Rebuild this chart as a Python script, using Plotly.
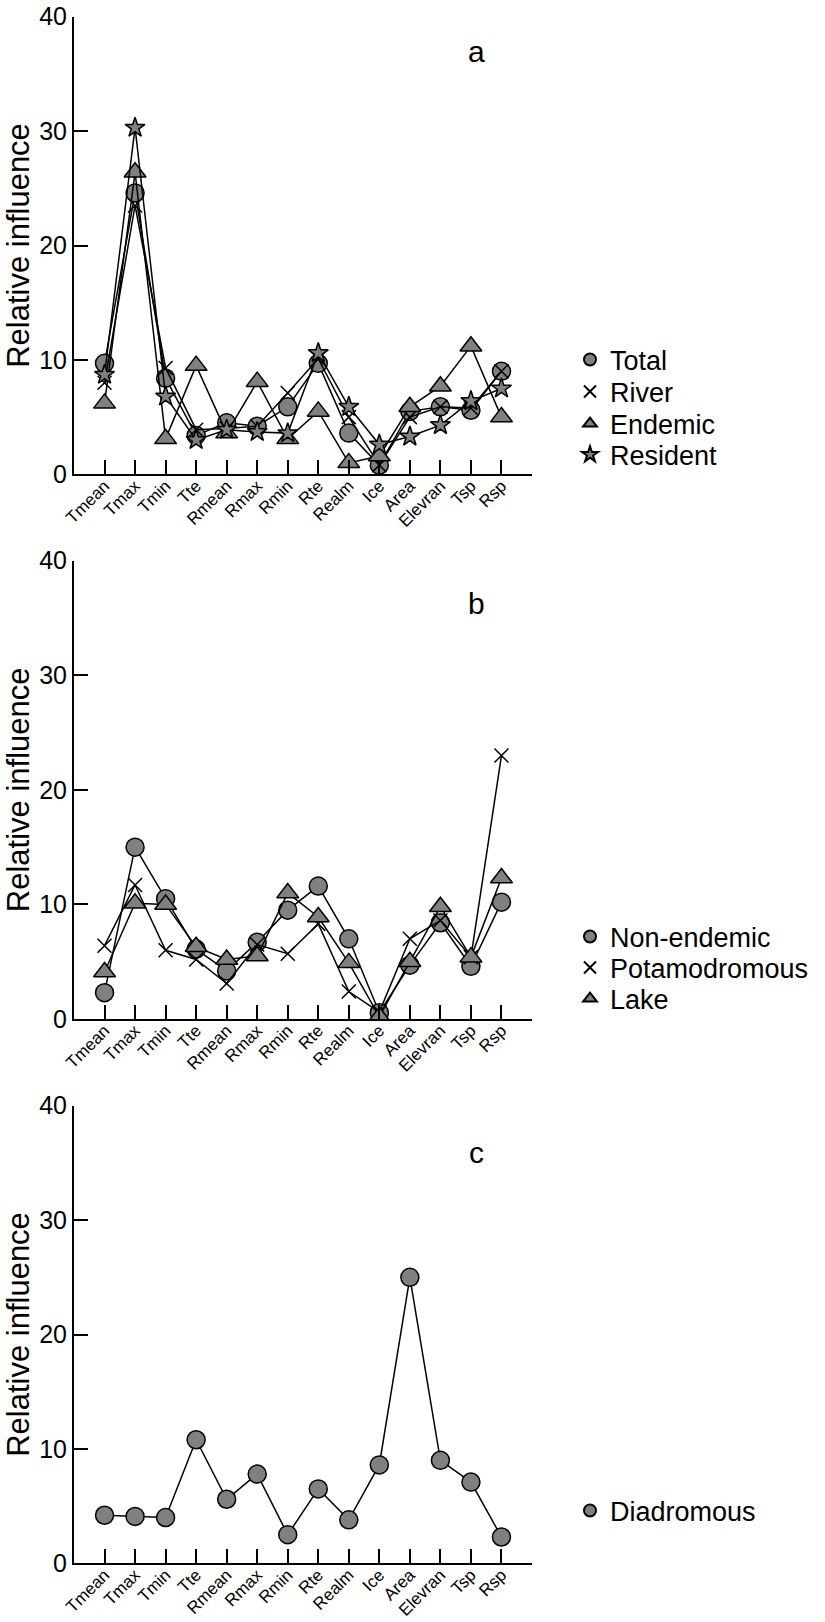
import plotly.graph_objects as go

categories = ["Tmean", "Tmax", "Tmin", "Tte", "Rmean", "Rmax", "Rmin", "Rte",
              "Realm", "Ice", "Area", "Elevran", "Tsp", "Rsp"]

# Panel a
total = [9.7, 24.6, 8.4, 3.4, 4.5, 4.2, 5.9, 9.7, 3.6, 0.8, 5.5, 5.9, 5.6, 9.0]
river = [8.0, 23.5, 9.3, 3.9, 4.0, 4.2, 7.1, 10.1, 5.0, 0.8, 5.0, 5.9, 5.8, 9.0]
endemic = [6.2, 26.4, 3.1, 9.5, 3.6, 8.1, 3.1, 5.5, 1.0, 1.6, 5.9, 7.7, 11.2, 5.0]
resident = [8.7, 30.3, 6.8, 3.0, 3.9, 3.7, 3.6, 10.6, 5.9, 2.6, 3.3, 4.3, 6.4, 7.5]

# Panel b
non_endemic = [2.3, 15.0, 10.5, 6.1, 4.2, 6.7, 9.5, 11.6, 7.0, 0.55, 4.7, 8.4, 4.6, 10.2]
potamodromous = [6.4, 11.7, 6.0, 5.2, 3.1, 6.5, 5.7, 8.3, 2.4, 0.6, 7.0, 8.6, 5.4, 23.0]
lake = [4.1, 10.1, 10.0, 6.3, 5.2, 5.5, 11.0, 8.9, 4.9, 0.2, 5.0, 9.8, 5.4, 12.3]

# Panel c
diadromous = [4.2, 4.1, 4.0, 10.8, 5.6, 7.8, 2.5, 6.5, 3.8, 8.6, 25.0, 9.0, 7.1, 2.3]

y_ticks = [0, 10, 20, 30, 40]
panel_letters = ["a", "b", "c"]

W, H = 825, 1622
ML = 74
PW = W - ML
FONT = "Arial, Liberation Sans, sans-serif"
GREY = "#808080"

xs = list(range(len(categories)))
tickvals = list(range(len(categories) + 1))
ticktext = categories + [""]

fig = go.Figure()

styles = {
    "circle": dict(symbol="circle", size=18, color=GREY, line=dict(color="black", width=1.5)),
    "x": dict(symbol="x-thin", size=14, color="black", line=dict(color="black", width=1.5)),
    "tri": dict(symbol="triangle-up", size=19, color=GREY, line=dict(color="black", width=1.5)),
    "star": dict(symbol="star", size=15, color=GREY, line=dict(color="black", width=1.5)),
}

# (name, values, style, legend row centre in px)
panels = [
    ("x", "y", [("Total", total, "circle", 360), ("River", river, "x", 392),
                ("Endemic", endemic, "tri", 424), ("Resident", resident, "star", 455)]),
    ("x2", "y2", [("Non-endemic", non_endemic, "circle", 937),
                  ("Potamodromous", potamodromous, "x", 968), ("Lake", lake, "tri", 999)]),
    ("x3", "y3", [("Diadromous", diadromous, "circle", 1511)]),
]

x_left, x_right = 74, 532
panel_px = [(16.7, 474.3), (560.7, 1019.0), (1105.7, 1563.3)]

def py(p):
    return 1 - p / H

def pxf(p):
    return (p - ML) / PW

layout = dict(
    width=W, height=H, paper_bgcolor="white", plot_bgcolor="white",
    margin=dict(l=ML, r=0, t=0, b=0, autoexpand=False),
    font=dict(family=FONT, color="black"),
    showlegend=True,
)

leg_i = 0
for xa, ya, series in panels:
    for name, vals, st, lc in series:
        leg_i += 1
        lkey = "legend" if leg_i == 1 else "legend" + str(leg_i)
        fig.add_trace(go.Scatter(
            x=xs, y=vals, name=name, mode="lines", showlegend=False,
            line=dict(color="black", width=1.5), xaxis=xa, yaxis=ya,
            hoverinfo="skip",
        ))
        fig.add_trace(go.Scatter(
            x=xs, y=vals, name=name, mode="markers",
            marker=styles[st], xaxis=xa, yaxis=ya, legend=lkey,
        ))
        layout[lkey] = dict(x=pxf(570), xanchor="left", y=py(lc), yanchor="middle",
                            font=dict(size=27, family=FONT, color="black"),
                            bgcolor="rgba(0,0,0,0)", itemsizing="constant")

axis_common = dict(showline=True, linecolor="black", linewidth=2,
                   ticks="inside", ticklen=14, tickwidth=2, tickcolor="black",
                   showgrid=False, zeroline=False, automargin=False)

for i, (top, bot) in enumerate(panel_px):
    suffix = "" if i == 0 else str(i + 1)
    layout["xaxis" + suffix] = dict(
        axis_common, domain=[pxf(x_left), pxf(x_right)], range=[-1, 14],
        tickmode="array", tickvals=tickvals, ticktext=ticktext, tickangle=-45,
        tickfont=dict(size=17, family=FONT, color="black"),
        ticklabelstandoff=-7,
        anchor="y" + suffix,
    )
    layout["yaxis" + suffix] = dict(
        axis_common, domain=[py(bot), py(top)], range=[0, 40],
        tickmode="array", tickvals=y_ticks,
        tickfont=dict(size=25, family=FONT, color="black"),
        title=dict(text="Relative influence", font=dict(size=31, family=FONT, color="black"),
                   standoff=0),
        anchor="x" + suffix,
    )

letter_pos = [(476.7, 52), (476.7, 603), (476.7, 1152)]
annotations = []
for letter, (lx, ly) in zip(panel_letters, letter_pos):
    annotations.append(dict(text=letter, x=pxf(lx), y=py(ly), xref="paper", yref="paper",
                            xanchor="center", yanchor="middle", showarrow=False,
                            font=dict(size=30, family=FONT, color="black")))
layout["annotations"] = annotations

fig.update_layout(**layout)
fig.write_html("out.html",
               config={"displayModeBar": False},
               post_script="document.body.style.margin='0px';document.body.style.padding='0px';")
